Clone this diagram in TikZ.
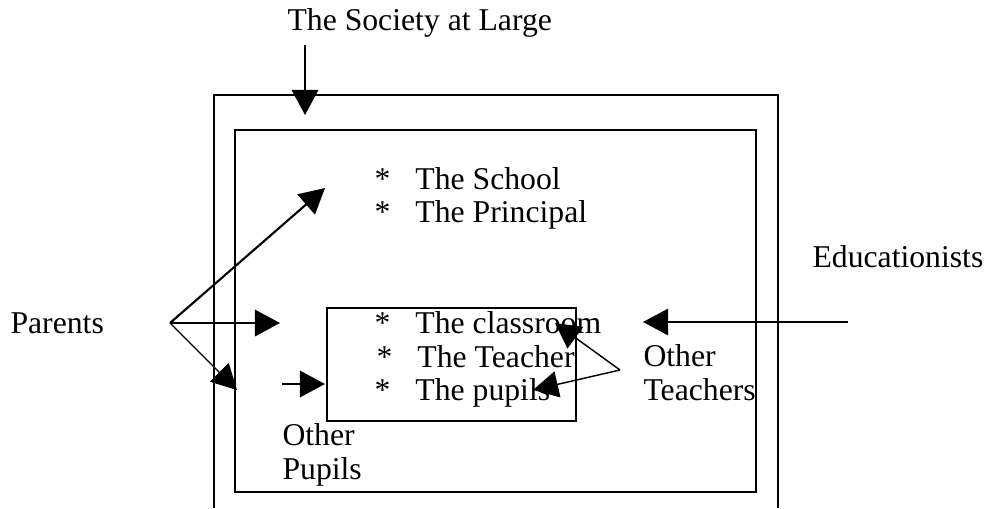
\documentclass[tikz,border=0pt]{standalone}
\usepackage{fontspec}
\setmainfont{Liberation Serif}
\usetikzlibrary{arrows.meta}
\newcommand{\staritem}[1]{\makebox[15.5pt][l]{*}#1}

\begin{document}
\begin{tikzpicture}[x=0.3785pt,y=-0.3785pt,line join=miter,
  >={Triangle[length=9.5pt,width=10pt]},
  every node/.style={inner sep=0pt,font=\fontsize{12}{12.7}\selectfont},
  lbl/.style={anchor=base west,align=left},
  frame/.style={line width=0.55pt},
  thick arrow/.style={->,line width=0.8pt},
  thin arrow/.style={->,line width=0.45pt}]
  \useasboundingbox (0,0) rectangle (993,508);
  \draw [frame] (214,508) -- (214,95) -- (778,95) -- (778,508);
  \draw [frame] (235,130) rectangle (756,492);
  \draw [frame] (327,308) rectangle (576,421);
  \node (society) at (287,30) [lbl] {The Society at Large};
  \node (school) at (374,189) [lbl] {\staritem{The School}};
  \node (principal) at (374,222) [lbl] {\staritem{The Principal}};
  \node (classroom) at (374,333) [lbl] {\staritem{The classroom}};
  \node (teacher) at (376,367) [lbl] {\staritem{The Teacher}};
  \node (pupils) at (374,400) [lbl] {\staritem{The pupils}};
  \node (parents) at (10,333) [lbl] {Parents};
  \node (educationists) at (812,267) [lbl] {Educationists};
  \node (otherteachers) at (643,400) [lbl] {Other\\Teachers};
  \node (otherpupils) at (282,479) [lbl] {Other\\Pupils};
  \coordinate (societytail) at (305,45);
  \coordinate (societytip) at (305,115);
  \coordinate (parentsfork) at (170,323);
  \coordinate (schooltip) at (325,188);
  \coordinate (innertip) at (280,323);
  \coordinate (outertip) at (237,390);
  \coordinate (pupilstail) at (282,384);
  \coordinate (pupilstip) at (325,384);
  \coordinate (eductail) at (848,322);
  \coordinate (eductip) at (643,322);
  \coordinate (teachfork) at (620,370);
  \coordinate (classtip) at (555,323);
  \coordinate (pupiltip) at (533,390);
  \draw [thick arrow] (societytail) -- (societytip);
  \draw [thick arrow] (parentsfork) -- (schooltip);
  \draw [thick arrow] (parentsfork) -- (innertip);
  \draw [thin arrow] (parentsfork) -- (outertip);
  \draw [thick arrow] (pupilstail) -- (pupilstip);
  \draw [->,line width=0.6pt] (eductail) -- (eductip);
  \draw [->,line width=0.55pt] (teachfork) -- (classtip);
  \draw [->,line width=0.55pt] (teachfork) -- (pupiltip);
\end{tikzpicture}
\end{document}
